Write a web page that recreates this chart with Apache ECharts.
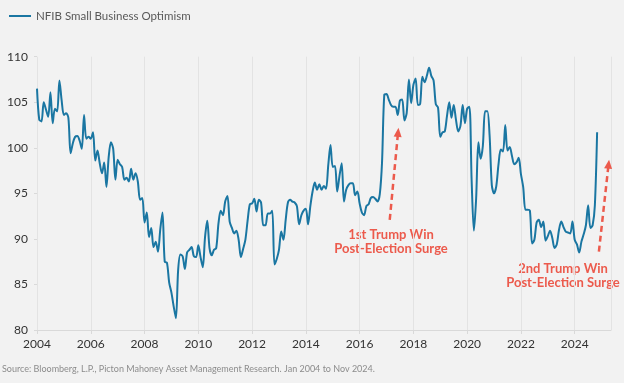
<!DOCTYPE html>
<html><head><meta charset="utf-8">
<script src="https://cdn.jsdelivr.net/npm/echarts@6/dist/echarts.min.js"></script>
<style>html,body{margin:0;padding:0;background:#f2f2f2}#c{width:624px;height:383px}</style>
</head><body><div id="c"></div>
<script>
const startYear = 2004;
const seriesName = 'NFIB Small Business Optimism';
const yTicks = [80, 85, 90, 95, 100, 105, 110];
const xTicks = [2004, 2006, 2008, 2010, 2012, 2014, 2016, 2018, 2020, 2022, 2024];
// monthly values, Jan 2004 .. Nov 2024
const v2004_2007 = [
  106.5, 103.1, 102.9, 105.0, 104.2, 103.4, 106.1, 102.7, 104.3, 104.0, 107.4, 105.2,
  103.6, 103.8, 103.3, 99.4, 100.5, 101.2, 101.3, 100.8, 99.9, 103.6, 101.0, 101.2,
  101.0, 101.7, 98.6, 99.7, 98.3, 97.2, 98.4, 95.7, 99.0, 100.6, 99.9, 96.5,
  98.7, 98.2, 97.9, 96.5, 96.7, 96.3, 97.7, 96.5, 97.2, 96.3, 94.3, 94.5
];
const v2008_2011 = [
  91.8, 92.9, 90.2, 91.2, 89.1, 89.7, 88.6, 91.0, 92.9, 87.5, 87.4, 85.2,
  84.1, 82.6, 81.3, 86.6, 88.3, 88.1, 86.7, 88.5, 88.8, 89.1, 88.1, 88.0,
  89.3, 88.0, 86.9, 90.2, 92.0, 89.0, 88.2, 88.8, 89.0, 91.7, 93.1, 92.6,
  94.1, 94.7, 91.9, 91.2, 90.6, 90.9, 89.9, 88.0, 88.9, 89.9, 92.0, 93.8
];
const v2012_2015 = [
  93.9, 94.4, 93.0, 94.3, 94.0, 91.5, 91.5, 92.8, 92.8, 93.1, 87.2, 87.8,
  88.8, 90.8, 89.9, 92.1, 94.0, 94.3, 94.1, 94.0, 93.6, 91.6, 92.6, 93.1,
  93.3, 91.6, 93.6, 95.2, 96.2, 95.4, 96.0, 95.4, 95.8, 95.5, 98.1, 100.3,
  97.9, 98.0, 95.2, 96.9, 98.3, 94.1, 95.4, 95.9, 96.1, 96.1, 94.8, 95.2
];
const v2016_2019 = [
  93.9, 92.9, 92.6, 93.6, 93.8, 94.5, 94.6, 94.4, 94.1, 94.9, 98.4, 105.8,
  105.9, 105.3, 104.7, 104.5, 104.5, 103.6, 105.2, 105.3, 103.0, 103.8, 107.5, 104.9,
  106.9, 107.6, 104.7, 104.8, 107.8, 107.2, 107.9, 108.8, 107.9, 107.4, 104.8, 104.4,
  101.2, 101.7, 101.8, 103.5, 105.0, 103.3, 104.7, 103.1, 101.8, 102.4, 104.7, 102.7
];
const v2020_2024 = [
  104.3, 104.5, 96.4, 90.9, 94.4, 100.6, 98.8, 100.2, 104.0, 104.0, 101.4, 95.9,
  95.0, 95.8, 98.2, 99.8, 99.6, 102.5, 99.7, 100.1, 99.1, 98.2, 98.4, 98.9,
  97.1, 95.7, 93.2, 93.2, 93.1, 89.5, 89.9, 91.8, 92.1, 91.3, 91.9, 89.8,
  90.3, 90.9, 90.1, 89.0, 89.4, 91.0, 91.9, 91.3, 90.8, 90.7, 90.6, 91.9,
  89.9, 89.4, 88.5, 89.7, 90.5, 91.5, 93.7, 91.2, 91.5, 93.7, 101.7
];
const values = [].concat(v2004_2007, v2008_2011, v2012_2015, v2016_2019, v2020_2024);
const seriesData = values.map((v, i) => [startYear + i / 12, v]);

const red = '#ec5a4c';
const arrow1 = [[2017.12, 92.1], [2017.43, 101.7]];
const arrow2 = [[2024.90, 88.6], [2025.26, 98.2]];

const chart = echarts.init(document.getElementById('c'), null, {renderer: 'canvas'});
chart.setOption({
  animation: false,
  backgroundColor: '#f2f2f2',
  textStyle: {fontFamily: 'Lato'},
  legend: {
    data: [seriesName], left: 9, top: 10, padding: 0,
    icon: 'rect', itemWidth: 22, itemHeight: 2,
    textStyle: {fontSize: 11.5, color: '#595959', fontFamily: 'Lato'}
  },
  grid: {left: 37, right: 13, top: 56.7, bottom: 53},
  xAxis: {
    type: 'value', min: 2004, max: 2025.35, interval: 2,
    axisLine: {show: true, lineStyle: {color: '#d9d9d9'}},
    axisTick: {show: true, length: 4, lineStyle: {color: '#d9d9d9'}},
    splitLine: {show: true, lineStyle: {color: '#e3e3e3'}},
    axisLabel: {
      showMaxLabel: false, margin: 8, fontSize: 12, color: '#333',
      formatter: v => xTicks.includes(v) ? String(v) : ''
    }
  },
  yAxis: {
    type: 'value', min: yTicks[0], max: yTicks[yTicks.length - 1], interval: 5,
    axisLine: {show: false},
    axisTick: {show: true, length: 3, lineStyle: {color: '#d9d9d9'}},
    splitLine: {show: false},
    axisLabel: {margin: 9, fontSize: 12, color: '#333'}
  },
  series: [{
    name: seriesName, type: 'line', data: seriesData, showSymbol: false, symbol: 'none',
    smooth: 0.3, lineStyle: {color: '#1a76a2', width: 2}, itemStyle: {color: '#1a76a2'},
    markLine: {
      silent: true, symbol: ['none', 'triangle'], symbolSize: [8, 9],
      lineStyle: {color: red, type: [6, 4], width: 2.5},
      label: {show: false},
      data: [
        [{coord: arrow1[0]}, {coord: arrow1[1]}],
        [{coord: arrow2[0]}, {coord: arrow2[1]}]
      ]
    }
  }],
  graphic: [
    {type: 'text', x: 391, y: 235, style: {text: '1st Trump Win', textAlign: 'center', textVerticalAlign: 'middle', fill: red, fontSize: 13, fontWeight: 'bold', fontFamily: 'Lato'}},
    {type: 'text', x: 391, y: 249, style: {text: 'Post-Election Surge', textAlign: 'center', textVerticalAlign: 'middle', fill: red, fontSize: 13, fontWeight: 'bold', fontFamily: 'Lato'}},
    {type: 'text', x: 563, y: 269, style: {text: '2nd Trump Win', textAlign: 'center', textVerticalAlign: 'middle', fill: red, fontSize: 13, fontWeight: 'bold', fontFamily: 'Lato'}},
    {type: 'text', x: 563, y: 283, style: {text: 'Post-Election Surge', textAlign: 'center', textVerticalAlign: 'middle', fill: red, fontSize: 13, fontWeight: 'bold', fontFamily: 'Lato'}},
    {type: 'text', x: 2, y: 369, style: {text: 'Source: Bloomberg, L.P., Picton Mahoney Asset Management Research. Jan 2004 to Nov 2024.', textAlign: 'left', textVerticalAlign: 'middle', fill: '#8c8c8c', fontSize: 9, fontFamily: 'Lato'}}
  ]
});
</script></body></html>
